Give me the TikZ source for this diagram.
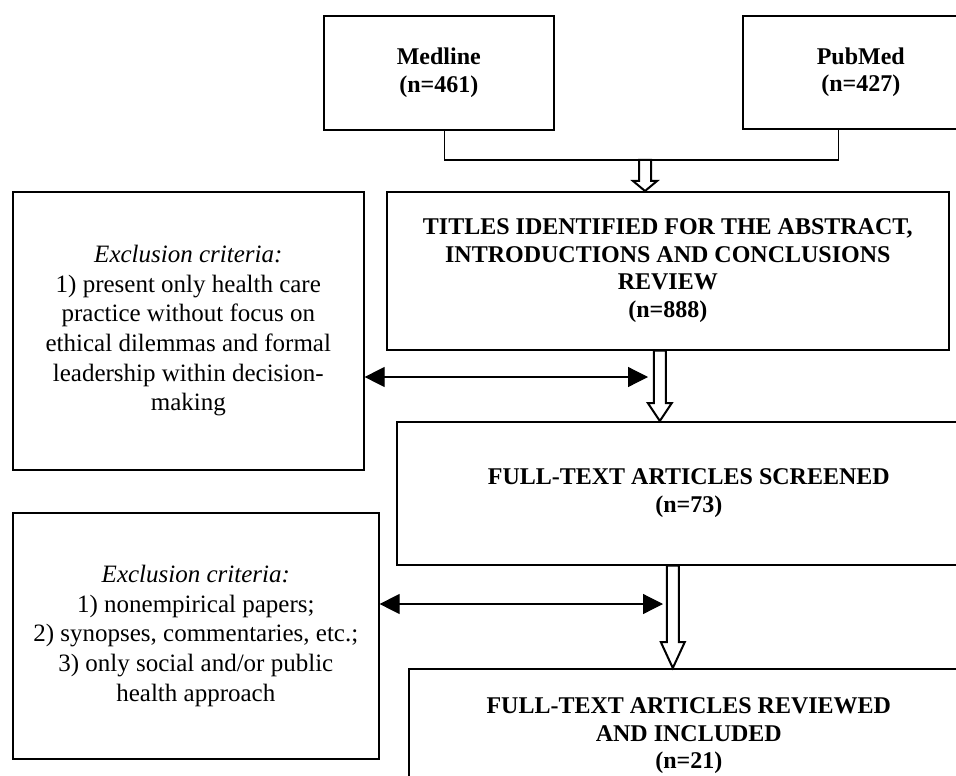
\documentclass[tikz,border=0pt]{standalone}
\usepackage{fontspec}
\setmainfont{Liberation Serif}
\usetikzlibrary{calc, arrows.meta}

\tikzstyle{box}   = [rectangle, draw=black, line width=0.8pt, anchor=north west, align=center, inner sep=0pt, font=\fontsize{12.5}{14.8}\selectfont]
\tikzstyle{stage} = [box, font=\fontsize{12}{13.8}\selectfont\bfseries]
\tikzstyle{line}  = [line width=0.6pt]
\tikzstyle{arrow} = [line width=0.6pt, <->, >={Triangle[length=10pt, width=10pt]}]
\tikzset{hollow/.style={draw, line width=1pt, fill=white,
    to path={let \p1=(\tikztostart), \p2=(\tikztotarget) in
      (\x1-3pt,\y1) -- (\x1-3pt,\y2+#1) -- (\x1-6pt,\y2+#1) -- (\x1,\y2)
      -- (\x1+6pt,\y2+#1) -- (\x1+3pt,\y2+#1) -- (\x1+3pt,\y1) -- cycle}}}

\begin{document}
\begin{tikzpicture}[x=0.5pt, y=-0.5pt]
    \useasboundingbox (0,0) rectangle (956,775);

    % sources
    \node (medline) [stage, minimum width=115pt, minimum height=57pt]   at (323,15) {Medline\\(n=461)};
    \node (pubmed)  [stage, minimum width=118pt, minimum height=56.5pt] at (742,15) {PubMed\\(n=427)};

    % screening steps
    \node (titles)   [stage, minimum width=281pt, minimum height=79pt]   at (386,191) {TITLES IDENTIFIED FOR THE ABSTRACT,\\INTRODUCTIONS AND CONCLUSIONS\\REVIEW\\(n=888)};
    \node (screened) [stage, minimum width=292pt, minimum height=71.5pt] at (396,421) {FULL-TEXT ARTICLES SCREENED\\(n=73)};
    \node (included) [stage, minimum width=280pt, minimum height=67pt]   at (408,668) {FULL-TEXT ARTICLES REVIEWED\\AND INCLUDED\\(n=21)};

    % exclusions
    \node (excl1) [box, minimum width=175.5pt, minimum height=139pt] at (12,191) {\textit{Exclusion criteria:}\\1) present only health care\\practice without focus on\\ethical dilemmas and formal\\leadership within decision-\\making};
    \node (excl2) [box, minimum width=183pt, minimum height=123pt] at (12,512) {\textit{Exclusion criteria:}\\1) nonempirical papers;\\2) synopses, commentaries, etc.;\\3) only social and/or public\\health approach};

    \coordinate (merge) at (645,160);
    \coordinate (hit1)  at (648,377);
    \coordinate (hit2)  at (663,604);

    \draw [line] ([xshift=3pt]medline.south) |- (merge) -| ([xshift=-11pt]pubmed.south);
    \draw [hollow=5pt]  (merge) to (merge |- titles.north);
    \draw [hollow=9pt]  ([xshift=-4pt]titles.south) to ([xshift=-4pt]titles.south |- screened.north);
    \draw [hollow=13pt] ([xshift=-8pt]screened.south) to ([xshift=-8pt]screened.south |- included.north);

    \draw [arrow] (excl1.east |- hit1) -- (hit1);
    \draw [arrow] (excl2.east |- hit2) -- (hit2);
\end{tikzpicture}
\end{document}
